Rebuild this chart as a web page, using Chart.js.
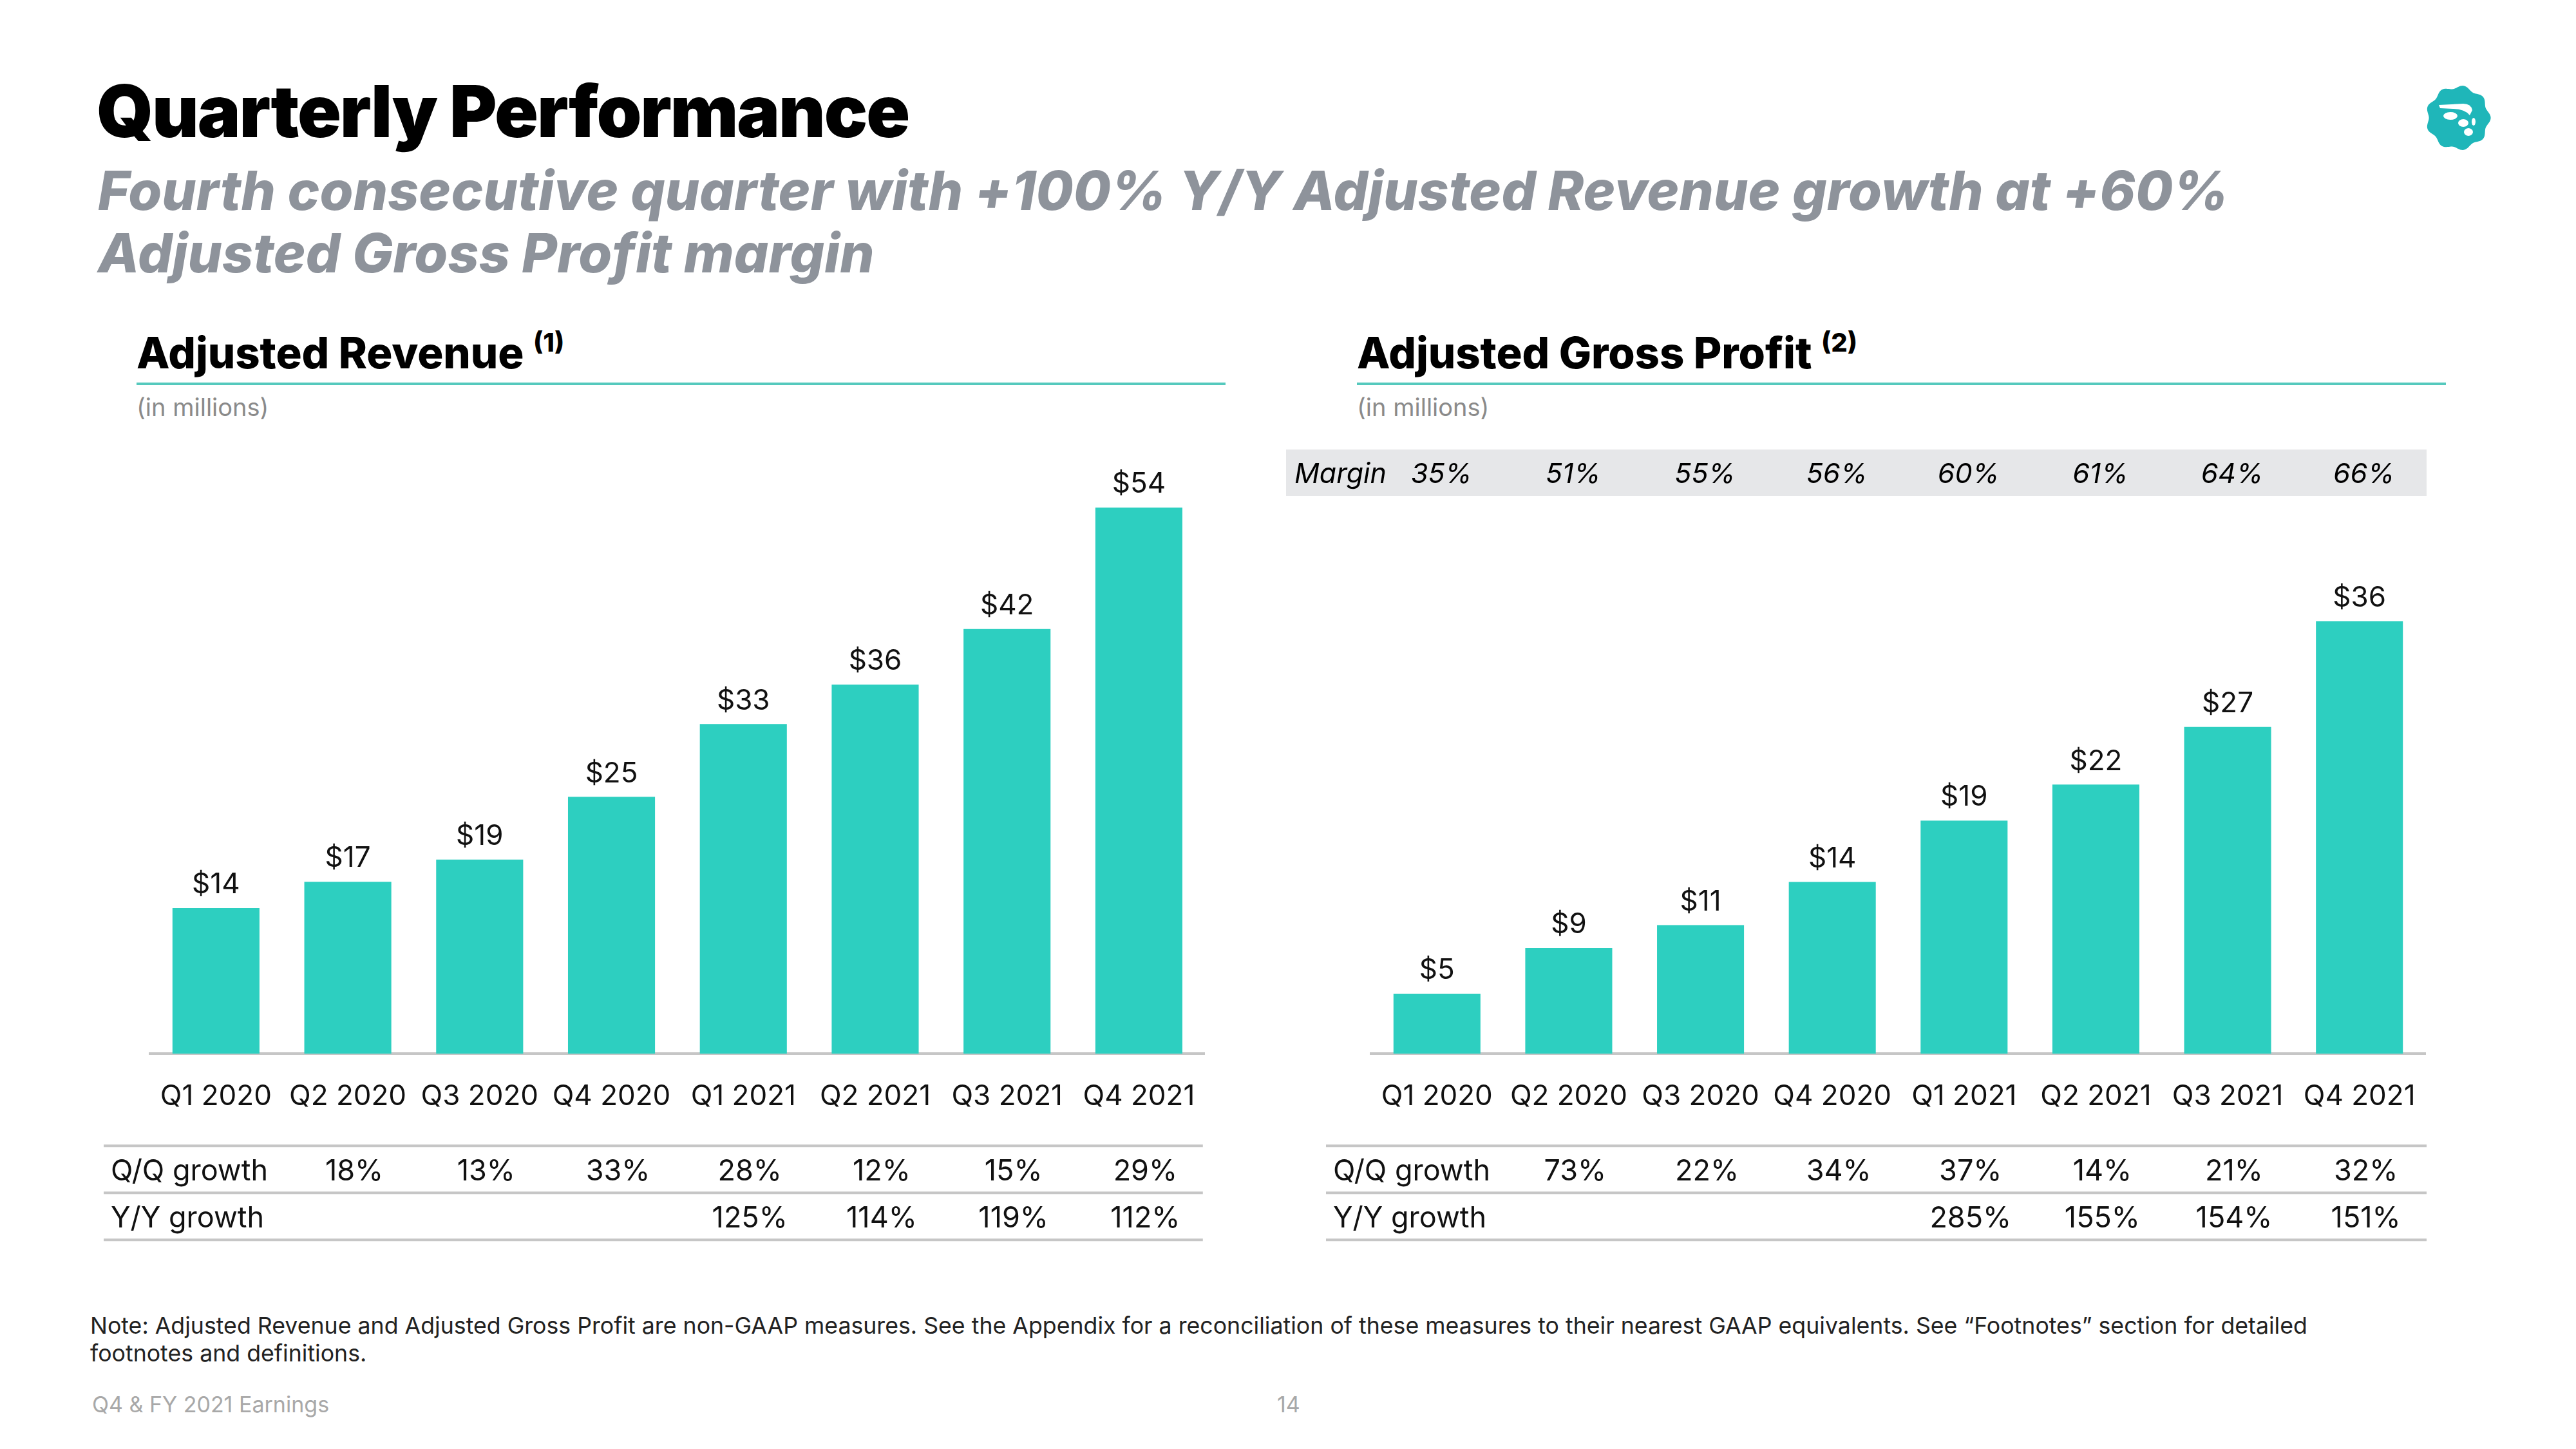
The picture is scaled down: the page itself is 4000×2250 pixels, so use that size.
<!DOCTYPE html>
<html>
<head>
<meta charset="utf-8">
<script src="https://cdn.jsdelivr.net/npm/chart.js@4"></script>
<style>
  html, body { margin: 0; padding: 0; background: #fff; }
  body { width: 4000px; height: 2250px; position: relative; overflow: hidden; font-family: Inter, "Noto Sans", sans-serif; color: #111; }
  .abs { position: absolute; white-space: nowrap; }
  #title { left: 150px; top: 116px; font-size: 112px; line-height: 112px; font-weight: 900; letter-spacing: -2.1px; color: #000; }
  #subtitle { left: 152px; top: 247px; font-size: 84px; line-height: 97px; font-weight: 800; font-style: italic; letter-spacing: 0.1px; color: #8e939b; }
  .head { font-size: 67px; line-height: 67px; font-weight: 800; letter-spacing: -0.1px; color: #000; }
  .head sup { font-size: 40px; vertical-align: 0; position: relative; top: -26px; letter-spacing: 0; }
  .rule { height: 4px; background: #55c9bd; width: 1691px; }
  .unit { font-size: 38px; line-height: 38px; color: #8a8a8a; }
  #note { left: 140px; top: 2037px; font-size: 35.7px; line-height: 43px; color: #222; }
  .foot { font-size: 34px; line-height: 34px; color: #a8a8a8; }
  .box { position: absolute; }
</style>
</head>
<body>
<div id="title" class="abs">Quarterly Performance</div>
<div id="subtitle" class="abs">Fourth consecutive quarter with +100% Y/Y Adjusted Revenue growth at +60%<br>Adjusted Gross Profit margin</div>

<svg class="abs" style="left:3762px; top:128px;" width="110" height="110" viewBox="-55 -55 110 110">
  <path id="badge" fill="#1fb6b9"></path>
  <path d="M-30,-20 L8,-22 Q20,-22 22,-12 L18,-4 Q10,-14 -8,-14 L-28,-15 Z" fill="#fff"/>
  <ellipse cx="-12" cy="-3" rx="11" ry="6" fill="#fff"/>
  <ellipse cx="8" cy="8" rx="8" ry="6" fill="#fff"/>
  <ellipse cx="24" cy="6" rx="3" ry="6" fill="#fff"/>
  <ellipse cx="16" cy="22" rx="7" ry="6" fill="#fff"/>
</svg>

<div class="abs head" style="left:212px; top:514px;">Adjusted Revenue <sup>(1)</sup></div>
<div class="abs rule" style="left:212px; top:594px;"></div>
<div class="abs unit" style="left:212px; top:613px;">(in millions)</div>

<div class="abs head" style="left:2107px; top:514px;">Adjusted Gross Profit <sup>(2)</sup></div>
<div class="abs rule" style="left:2107px; top:594px;"></div>
<div class="abs unit" style="left:2107px; top:613px;">(in millions)</div>

<div class="box" style="left:150px; top:640px; width:1746px; height:1310px;"><canvas id="revChart"></canvas></div>
<div class="box" style="left:1990px; top:640px; width:1810px; height:1310px;"><canvas id="gpChart"></canvas></div>

<div id="note" class="abs">Note: Adjusted Revenue and Adjusted Gross Profit are non-GAAP measures. See the Appendix for a reconciliation of these measures to their nearest GAAP equivalents. See “Footnotes” section for detailed<br>footnotes and definitions.</div>
<div class="abs foot" style="left:143px; top:2164px;">Q4 &amp; FY 2021 Earnings</div>
<div class="abs foot" style="left:1983px; top:2164px;">14</div>

<script>
// --- data ---
const quarters = ["Q1 2020","Q2 2020","Q3 2020","Q4 2020","Q1 2021","Q2 2021","Q3 2021","Q4 2021"];

const revenue       = [14.4, 17.0, 19.2, 25.4, 32.6, 36.5, 42.0, 54.0];
const revenueLabels = ["$14","$17","$19","$25","$33","$36","$42","$54"];
const revenueQoQ    = ["", "18%", "13%", "33%", "28%", "12%", "15%", "29%"];
const revenueYoY    = ["", "", "", "", "125%", "114%", "119%", "112%"];

const grossProfit       = [5.0, 8.8, 10.7, 14.3, 19.4, 22.4, 27.2, 36.0];
const grossProfitLabels = ["$5","$9","$11","$14","$19","$22","$27","$36"];
const grossMargin       = ["35%","51%","55%","56%","60%","61%","64%","66%"];
const grossQoQ          = ["", "73%", "22%", "34%", "37%", "14%", "21%", "32%"];
const grossYoY          = ["", "", "", "", "285%", "155%", "154%", "151%"];

// --- logo badge outline ---
(function(){
  let d = "";
  for (let i = 0; i <= 180; i++) {
    const a = i / 180 * Math.PI * 2;
    const r = 48 + 2.6 * Math.cos(9 * a);
    d += (i ? "L" : "M") + (r * Math.cos(a)).toFixed(2) + "," + (r * Math.sin(a)).toFixed(2);
  }
  document.getElementById("badge").setAttribute("d", d + "Z");
})();

const FONT = "Inter, 'Noto Sans', sans-serif";
const TEAL = "#2dcfc0";

// labels above bars, margin band, growth table
const extras = {
  id: "extras",
  afterDatasetsDraw(chart, args, opts) {
    const ctx = chart.ctx, ca = chart.chartArea, xs = chart.scales.x;
    const meta = chart.getDatasetMeta(0);
    ctx.save();
    ctx.textAlign = "center";
    ctx.textBaseline = "middle";
    ctx.fillStyle = "#111";
    ctx.font = "44px " + FONT;
    meta.data.forEach((bar, i) => ctx.fillText(opts.labels[i], bar.x, bar.y - 36));

    const x0 = ca.left - opts.tableInset, x1 = ca.right + opts.tableEnd;

    if (opts.margin) {
      ctx.fillStyle = "#e6e7e9";
      ctx.fillRect(ca.left - 132, ca.top + 4, x1 - (ca.left - 132), 72);
      ctx.fillStyle = "#000";
      ctx.font = "italic 43px " + FONT;
      ctx.textAlign = "left";
      ctx.fillText("Margin", ca.left - 119, ca.top + 43);
      ctx.textAlign = "center";
      opts.margin.forEach((m, i) => ctx.fillText(m, xs.getPixelForValue(i) + 7, ca.top + 43));
    }

    // table
    ctx.strokeStyle = "#c6c6c6";
    ctx.lineWidth = 4;
    [143, 216, 289].forEach(dy => {
      ctx.beginPath();
      ctx.moveTo(x0, ca.bottom + dy);
      ctx.lineTo(x1, ca.bottom + dy);
      ctx.stroke();
    });
    ctx.fillStyle = "#111";
    ctx.font = "45px " + FONT;
    opts.rows.forEach((row, r) => {
      const y = ca.bottom + 183 + r * 73;
      ctx.textAlign = "left";
      ctx.fillText(row.name, x0 + 11, y);
      ctx.textAlign = "center";
      row.values.forEach((v, i) => { if (v) ctx.fillText(v, xs.getPixelForValue(i) + 10, y); });
    });
    ctx.restore();
  }
};

function makeChart(id, values, labels, yMax, pad, extraOpts) {
  return new Chart(document.getElementById(id), {
    type: "bar",
    data: {
      labels: quarters,
      datasets: [{ data: values, backgroundColor: TEAL, borderWidth: 0,
                   barPercentage: 0.66, categoryPercentage: 1.0 }]
    },
    options: {
      responsive: true,
      maintainAspectRatio: false,
      animation: false,
      layout: { padding: pad },
      plugins: { legend: { display: false }, tooltip: { enabled: false },
                 extras: Object.assign({ labels }, extraOpts) },
      scales: {
        x: {
          grid: { display: false, drawTicks: false },
          border: { display: true, color: "#c6c6c6", width: 4 },
          ticks: { color: "#111", font: { family: FONT, size: 44 }, padding: 40, maxRotation: 0, autoSkip: false }
        },
        y: { display: false, min: 0, max: yMax }
      }
    },
    plugins: [extras]
  });
}

makeChart("revChart", revenue, revenueLabels, 60,
  { left: 83, right: 11, top: 54, bottom: 181 },
  { tableInset: 72, tableEnd: -3,
    rows: [{ name: "Q/Q growth", values: revenueQoQ }, { name: "Y/Y growth", values: revenueYoY }] });

makeChart("gpChart", grossProfit, grossProfitLabels, 50.5,
  { left: 139, right: 34, top: 54, bottom: 181 },
  { tableInset: 70, tableEnd: 2, margin: grossMargin,
    rows: [{ name: "Q/Q growth", values: grossQoQ }, { name: "Y/Y growth", values: grossYoY }] });
</script>
</body>
</html>
